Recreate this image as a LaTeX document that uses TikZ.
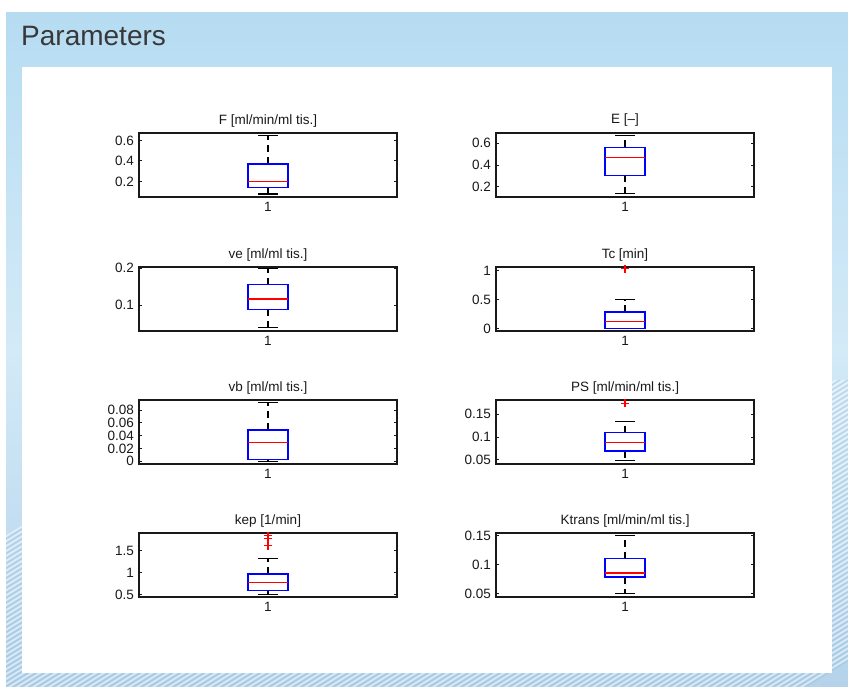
\documentclass[tikz,border=0pt]{standalone}
\usepackage{fontspec}
\setmainfont{Liberation Sans}
\definecolor{bgtop}{HTML}{B6DCF2}
\definecolor{bgmid}{HTML}{D3EAF7}
\definecolor{bgbot}{HTML}{B4D3EB}
\definecolor{streakdark}{HTML}{8DB4D4}
\definecolor{mlblue}{RGB}{0,0,255}
\definecolor{mlred}{RGB}{255,0,0}
\newcommand\fs{\fontsize{13.5}{16}\selectfont}
\newcommand\axsetup[4]{%
  \pgfmathsetmacro\axL{#1}%
  \pgfmathsetmacro\axk{64/((#4)-(#3))}%
  \pgfmathsetmacro\axoff{-((#2)+64)-(#3)*\axk}%
  \def\axlo{#3}\def\axhi{#4}%
}
\newcommand\axframe[3]{%
  \foreach \t/\lab [count=\tk] in {#3}{%
    \draw[tickst] (0,\t) -- ++(3,0);
    \draw[tickst] (258,\t) -- ++(-3,0);
    \node[ticklab] (#1-t\tk) at (-5,\t) {\lab};
  }%
  \draw[axisline] (0,\axlo) rectangle (258,\axhi);
  \node[titlest] (#1-title) at (129,\axhi) {#2};
  \node[xlab] (#1-x) at (129,\axlo) {1};
}
\newcommand\boxdata[5]{% q1 med q3 wlo whi
  \draw[whisk] (129,#3) -- (129,#5);
  \draw[whisk] (129,#1) -- (129,#4);
  \draw[capst] (119,#5) -- (139,#5);
  \draw[capst] (119,#4) -- (139,#4);
  \draw[boxst] (109,#1) rectangle (149,#3);
  \draw[medst] (109,#2) -- (149,#2);
}
\newcommand\outlier[1]{%
  \draw[outst] (129,#1) +(-4,0) -- +(4,0) (129,#1) +(0,-4pt) -- +(0,4pt);
}
\begin{document}
\begin{tikzpicture}[x=1pt,y=-1pt,
  ax/.style={shift={(\axL pt,\axoff pt)}, x=1pt, y={(0pt,\axk pt)}},
  axisline/.style={draw=black!90, line width=1.2pt},
  tickst/.style={draw=black!90, line width=1pt},
  ticklab/.style={anchor=east, inner sep=0pt, font=\fs, text=black!90},
  titlest/.style={anchor=base, yshift=9pt, inner sep=0pt, font=\fs, text=black!90},
  xlab/.style={anchor=north, yshift=-5pt, inner sep=0pt, font=\fs, text=black!90},
  whisk/.style={draw=black, line width=1.1pt, dash pattern=on 7pt off 5pt},
  capst/.style={draw=black, line width=1.2pt},
  boxst/.style={draw=mlblue, line width=1.4pt},
  medst/.style={draw=mlred, line width=1.4pt},
  outst/.style={draw=mlred, line width=1.3pt}]
\useasboundingbox (0,0) rectangle (848,686);
\fill[white] (0,0) rectangle (848,686);
% background
\begin{scope}
  \clip (6,12) rectangle (848,686);
  \shade[top color=bgtop, bottom color=bgbot, middle color=bgmid] (6,12) rectangle (848,686);
  \foreach \i in {0,...,130}{%
    \pgfmathsetmacro\xx{\i*8-260}%
    \draw[white, opacity=0.55, line width=1.4pt] (\xx,700) -- ++(520,-320);
    \draw[streakdark, opacity=0.35, line width=1pt] (\xx+4,700) -- ++(520,-320);
  }
\end{scope}
\node[anchor=base west, inner sep=0pt, font=\fontsize{28}{32}\selectfont, text=black!78] (title) at (21,45) {Parameters};
\fill[white] (22,67) rectangle (832,673);
% F
\axsetup{139}{133}{0.05}{0.672}
\begin{scope}[ax]
  \axframe{F}{F [ml/min/ml tis.]}{0.2/0.2,0.4/0.4,0.6/0.6}
  \boxdata{0.145}{0.203}{0.369}{0.08}{0.645}
\end{scope}
% E
\axsetup{496}{133}{0.109}{0.691}
\begin{scope}[ax]
  \axframe{E}{E [–]}{0.2/0.2,0.4/0.4,0.6/0.6}
  \boxdata{0.306}{0.47}{0.561}{0.139}{0.667}
\end{scope}
% ve
\axsetup{139}{267}{0.0306}{0.203}
\begin{scope}[ax]
  \axframe{ve}{ve [ml/ml tis.]}{0.1/0.1,0.2/0.2}
  \boxdata{0.0889}{0.1167}{0.1556}{0.0398}{0.2}
\end{scope}
% Tc
\axsetup{496}{267}{-0.042}{1.066}
\begin{scope}[ax]
  \axframe{Tc}{Tc [min]}{0/0,0.5/0.5,1/1}
  \boxdata{0.006}{0.126}{0.284}{0.0}{0.5}
  \outlier{1.036}
\end{scope}
% vb
\axsetup{139}{400}{-0.0043}{0.096}
\begin{scope}[ax]
  \axframe{vb}{vb [ml/ml tis.]}{0/0,0.02/0.02,0.04/0.04,0.06/0.06,0.08/0.08}
  \boxdata{0.0027}{0.029}{0.049}{0.0}{0.0917}
\end{scope}
% PS
\axsetup{496}{400}{0.0412}{0.181}
\begin{scope}[ax]
  \axframe{PS}{PS [ml/min/ml tis.]}{0.05/0.05,0.1/0.1,0.15/0.15}
  \boxdata{0.0693}{0.0876}{0.1095}{0.0485}{0.134}
  \outlier{0.174}
\end{scope}
% kep
\axsetup{139}{533}{0.447}{1.897}
\begin{scope}[ax]
  \axframe{kep}{kep [1/min]}{0.5/0.5,1/1,1.5/1.5}
  \boxdata{0.599}{0.779}{0.97}{0.51}{1.317}
  \outlier{1.84}
  \outlier{1.78}
  \outlier{1.61}
\end{scope}
% Ktrans
\axsetup{496}{533}{0.0443}{0.1546}
\begin{scope}[ax]
  \axframe{Kt}{Ktrans [ml/min/ml tis.]}{0.05/0.05,0.1/0.1,0.15/0.15}
  \boxdata{0.0789}{0.0857}{0.1103}{0.05}{0.15}
\end{scope}
\end{tikzpicture}
\end{document}
